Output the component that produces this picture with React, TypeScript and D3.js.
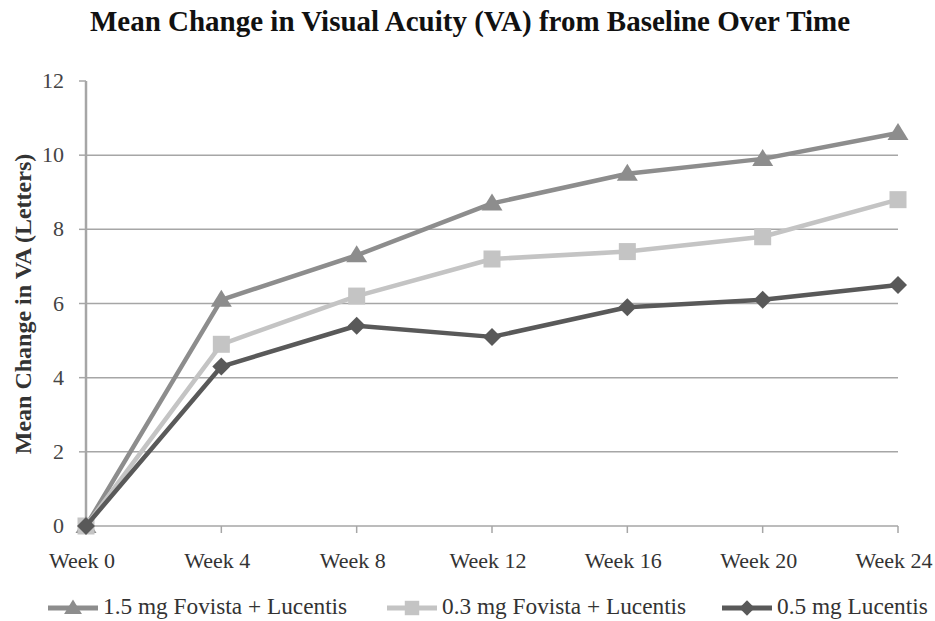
import React from "react";
import * as d3 from "d3";

const weeks = ["Week 0", "Week 4", "Week 8", "Week 12", "Week 16", "Week 20", "Week 24"];
const fovista15 = [0, 6.1, 7.3, 8.7, 9.5, 9.9, 10.6];
const fovista03 = [0, 4.9, 6.2, 7.2, 7.4, 7.8, 8.8];
const lucentis05 = [0, 4.3, 5.4, 5.1, 5.9, 6.1, 6.5];
const yTicks = [0, 2, 4, 6, 8, 10, 12];
const seriesNames = ["1.5 mg Fovista + Lucentis", "0.3 mg Fovista + Lucentis", "0.5 mg Lucentis"];

const W = 935;
const H = 621;
const left = 86;
const right = 898;
const top = 81;
const bottom = 526;
const FONT = "'Liberation Serif', 'Times New Roman', serif";

const series = [
  { name: seriesNames[0], values: fovista15, color: "#8d8d8d", shape: "triangle" },
  { name: seriesNames[1], values: fovista03, color: "#c4c4c4", shape: "square" },
  { name: seriesNames[2], values: lucentis05, color: "#595959", shape: "diamond" },
];

function Marker({ shape, x, y, color, k = 1 }: { shape: string; x: number; y: number; color: string; k?: number }) {
  if (shape === "triangle") {
    const s = 10 * k;
    return (
      <path
        d={`M${x},${y - s} L${x + s * 1.05},${y + s * 0.7} L${x - s * 1.05},${y + s * 0.7} Z`}
        fill={color}
      />
    );
  }
  if (shape === "square") {
    const s = 8.5 * k;
    return <rect x={x - s} y={y - s} width={s * 2} height={s * 2} fill={color} />;
  }
  const s = 9 * k;
  return <path d={`M${x},${y - s} L${x + s},${y} L${x},${y + s} L${x - s},${y} Z`} fill={color} />;
}

export default function App() {
  const x = d3.scalePoint<string>().domain(weeks).range([left, right]);
  const y = d3.scaleLinear().domain([0, 12]).range([bottom, top]);
  const line = d3
    .line<number>()
    .x((_, i) => x(weeks[i]) as number)
    .y((d) => y(d));

  const legendX = [48, 387, 722];

  return (
    <svg width={W} height={H} style={{ display: "block", position: "absolute", left: 0, top: 0, background: "#fff" }}>
      <rect width={W} height={H} fill="#fff" />
      <text x={470} y={31} textAnchor="middle" fontFamily={FONT} fontWeight="bold" fontSize={29} fill="#111">
        Mean Change in Visual Acuity (VA) from Baseline Over Time
      </text>
      {yTicks.map((t) => (
        <g key={t}>
          {t !== 12 && (
            <line x1={left} x2={right} y1={y(t)} y2={y(t)} stroke="#a6a6a6" strokeWidth={1.5} />
          )}
          <line x1={left - 7} x2={left} y1={y(t)} y2={y(t)} stroke="#a6a6a6" strokeWidth={1.5} />
          <text x={64} y={y(t) + 7} textAnchor="end" fontFamily={FONT} fontSize={22} fill="#444">
            {t}
          </text>
        </g>
      ))}
      <line x1={left} x2={left} y1={top} y2={bottom} stroke="#a6a6a6" strokeWidth={2.5} />
      {weeks.map((w, i) => (
        <g key={w}>
          {i > 0 && (
            <line x1={x(w)} x2={x(w)} y1={bottom} y2={bottom + 7} stroke="#a6a6a6" strokeWidth={1.5} />
          )}
          <text x={(x(w) as number) - 4} y={568} textAnchor="middle" fontFamily={FONT} fontSize={22} fill="#333">
            {w}
          </text>
        </g>
      ))}
      <text
        transform={`translate(31,304) rotate(-90)`}
        textAnchor="middle"
        fontFamily={FONT}
        fontWeight="bold"
        fontSize={24}
        fill="#333"
      >
        Mean Change in VA (Letters)
      </text>
      {series.map((s) => (
        <g key={s.name}>
          <path d={line(s.values) as string} fill="none" stroke={s.color} strokeWidth={4.5} strokeLinejoin="round" />
          {s.values.map((v, i) => (
            <Marker key={i} shape={s.shape} x={x(weeks[i]) as number} y={y(v)} color={s.color} />
          ))}
        </g>
      ))}
      {series.map((s, i) => (
        <g key={"lg" + s.name}>
          <line x1={legendX[i]} x2={legendX[i] + 50} y1={608} y2={608} stroke={s.color} strokeWidth={5} />
          <Marker shape={s.shape} x={legendX[i] + 25} y={608} color={s.color} k={0.85} />
          <text x={legendX[i] + 55} y={614} fontFamily={FONT} fontSize={23.3} fill="#333">
            {s.name}
          </text>
        </g>
      ))}
    </svg>
  );
}
